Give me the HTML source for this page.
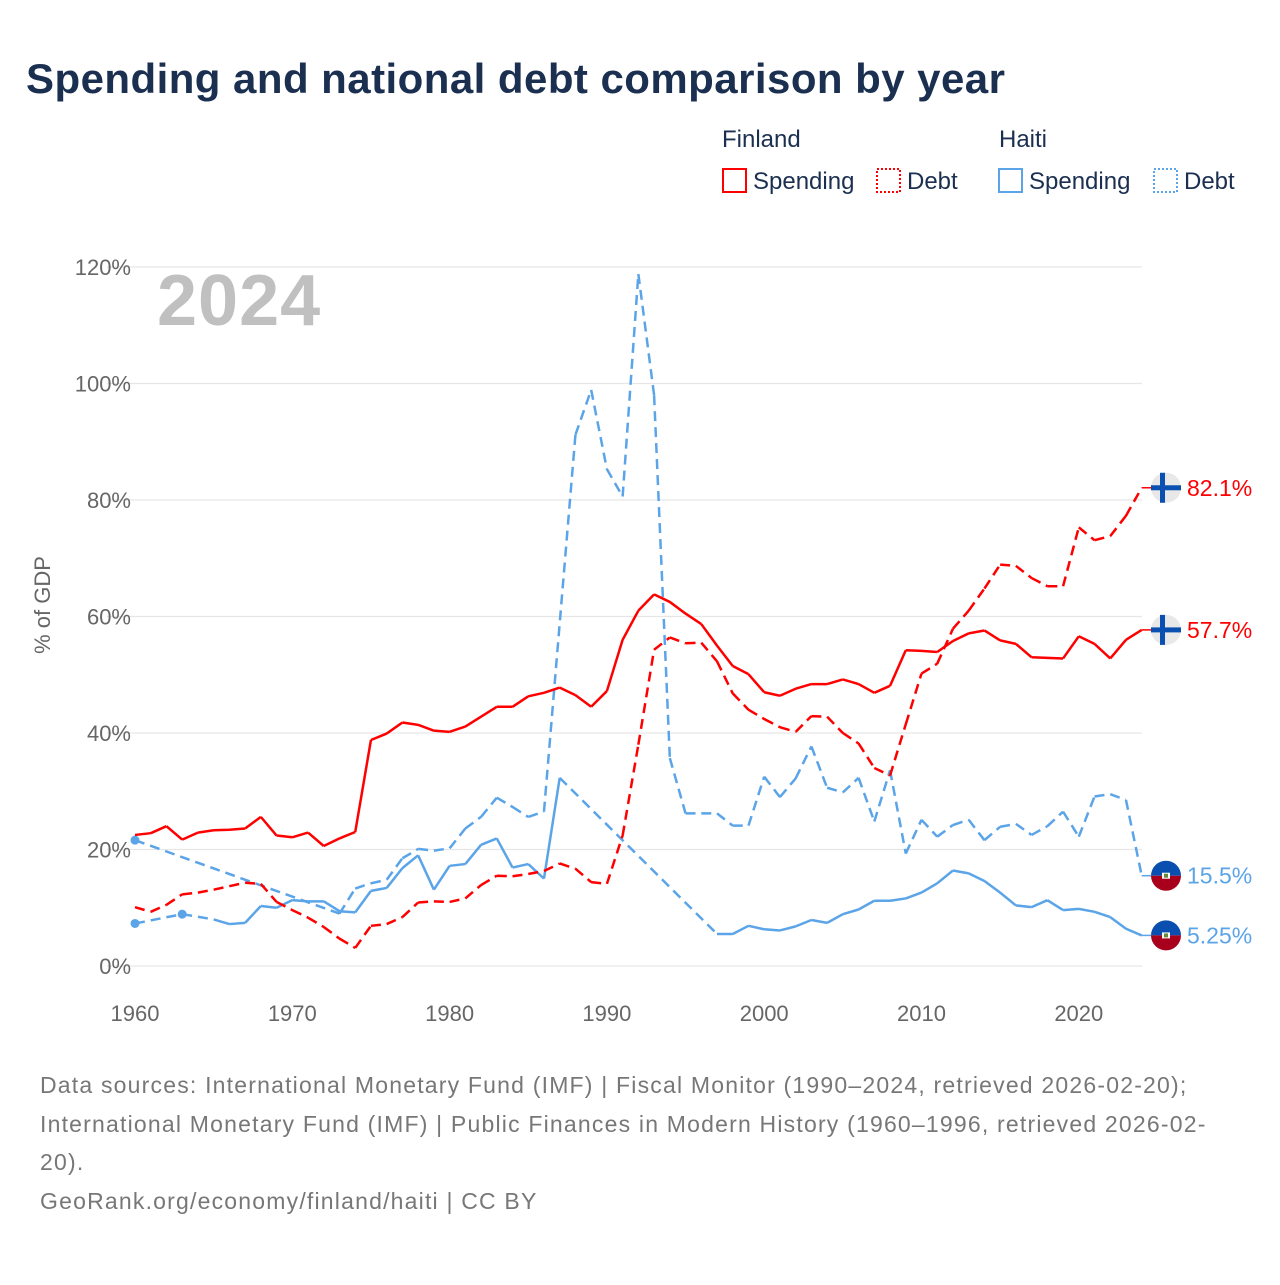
<!DOCTYPE html>
<html><head><meta charset="utf-8">
<style>
body{margin:0;background:#fff;width:1280px;height:1280px;overflow:hidden;font-family:"Liberation Sans",sans-serif}
svg text{font-family:"Liberation Sans",sans-serif}
</style></head>
<body>
<svg width="1280" height="1280" viewBox="0 0 1280 1280" id="chart">
<text x="26" y="93" font-size="42" font-weight="bold" fill="#1b2f50" letter-spacing="0.45">Spending and national debt comparison by year</text>
<g>
<text x="722" y="147" font-size="24" fill="#1b2f50">Finland</text>
<text x="999" y="147" font-size="24" fill="#1b2f50">Haiti</text>
<g><rect x="723" y="169" width="23" height="23" fill="none" stroke="#f00" stroke-width="2"/><text x="753" y="189" font-size="24" fill="#1b2f50">Spending</text></g>
<g><rect x="877" y="169" width="23" height="23" fill="none" stroke="#f00" stroke-width="2" stroke-dasharray="2,2"/><text x="907" y="189" font-size="24" fill="#1b2f50">Debt</text></g>
<g><rect x="999" y="169" width="23" height="23" fill="none" stroke="#5ba4e8" stroke-width="2"/><text x="1029" y="189" font-size="24" fill="#1b2f50">Spending</text></g>
<g><rect x="1154" y="169" width="23" height="23" fill="none" stroke="#5ba4e8" stroke-width="2" stroke-dasharray="2,2"/><text x="1184" y="189" font-size="24" fill="#1b2f50">Debt</text></g>
</g>
<text x="157" y="325" font-size="72" font-weight="bold" fill="#c0c0c0" letter-spacing="1">2024</text>
<text transform="translate(50,605) rotate(-90)" text-anchor="middle" font-size="22" fill="#666">% of GDP</text>
<g id="grid"></g><g id="series"></g><g id="ends"></g>
<g font-size="23" fill="#777" letter-spacing="1.2">
<text x="40" y="1093">Data sources: International Monetary Fund (IMF) | Fiscal Monitor (1990–2024, retrieved 2026-02-20);</text>
<text x="40" y="1132">International Monetary Fund (IMF) | Public Finances in Modern History (1960–1996, retrieved 2026-02-</text>
<text x="40" y="1170">20).</text>
<text x="40" y="1209">GeoRank.org/economy/finland/haiti | CC BY</text>
</g>
</svg>
<script>
const years=[];for(let y=1960;y<=2024;y++)years.push(y);
const yTicks=[0,20,40,60,80,100,120];
const xTicks=[1960,1970,1980,1990,2000,2010,2020];
const finSpending=[22.5,22.8,24,21.7,22.9,23.3,23.4,23.6,25.6,22.4,22.1,22.9,20.6,21.9,23,38.8,39.9,41.8,41.4,40.4,40.2,41.1,42.8,44.5,44.5,46.3,46.9,47.8,46.5,44.5,47.2,56,61,63.8,62.5,60.5,58.7,55,51.5,50.1,47,46.4,47.6,48.4,48.4,49.2,48.4,46.9,48.1,54.2,54.1,53.9,55.8,57.1,57.6,55.9,55.3,53,52.9,52.8,56.6,55.3,52.8,56,57.7];
const finDebt=[10.1,9.3,10.5,12.3,12.6,13.1,13.7,14.3,14.1,11,9.6,8.3,6.7,4.7,3.1,6.9,7.2,8.4,10.9,11.1,11,11.6,13.9,15.5,15.4,15.8,16.3,17.6,16.7,14.4,14.1,22.4,38,54.3,56.4,55.4,55.5,52.3,46.8,44,42.4,41,40.2,42.9,42.8,40,38.2,34,32.7,41.5,50.2,51.9,57.9,61,64.8,68.9,68.7,66.6,65.2,65.2,75.3,73.1,73.8,77.3,82.1];
const haiSpending=[7.3,null,null,8.9,null,8.0,7.2,7.4,10.3,10.0,11.3,11.1,11.1,9.4,9.2,12.9,13.4,16.8,19.0,13.1,17.2,17.5,20.8,21.9,16.9,17.5,15.0,32.3,null,null,null,null,null,null,null,null,null,5.5,5.5,6.9,6.3,6.1,6.8,7.9,7.4,8.9,9.7,11.2,11.2,11.6,12.6,14.2,16.4,15.9,14.6,12.6,10.4,10.1,11.3,9.6,9.8,9.3,8.4,6.4,5.25];
const haiDebt=[21.6,null,null,null,null,null,null,null,null,null,null,null,null,9.0,13.3,14.2,14.8,18.5,20.1,19.8,20.2,23.6,25.6,28.9,27.3,25.6,26.5,null,91.2,98.9,85.3,80.6,118.8,98,35.7,26.2,26.2,26.2,24.1,24.1,32.5,29,32.2,37.7,30.6,29.8,32.3,24.8,33.6,19.3,25.1,22.2,24.2,25.1,21.6,23.9,24.4,22.5,24.0,26.5,22.2,29.1,29.5,28.5,15.5];
const NS="http://www.w3.org/2000/svg";
const X=y=>135+(y-1960)*15.73;
const Y=v=>966-v*5.825;
function el(t,a,p){const e=document.createElementNS(NS,t);for(const k in a)e.setAttribute(k,a[k]);p.appendChild(e);return e;}
const grid=document.getElementById('grid');
yTicks.forEach(t=>{
 const l=el('line',{x1:107,x2:1142,y1:Y(t),y2:Y(t),stroke:'#e6e6e6','stroke-width':1.2},grid);
 
 
 const tx=el('text',{x:131,y:Y(t)+8,'text-anchor':'end','font-size':22,fill:'#666'},grid);tx.textContent=t+'%';
 
 
});
xTicks.forEach(t=>{
 const tx=el('text',{x:X(t),y:1021,'text-anchor':'middle','font-size':22,fill:'#666'},grid);tx.textContent=t;
 
 
});
const sg=document.getElementById('series');
function draw(vals,color,dashedAll,name){
 const g=el('g',{},sg);
 
 
 const pts=[];vals.forEach((v,i)=>{if(v!=null)pts.push([years[i],v,i]);});
 let solid='',dash='';
 for(let k=1;k<pts.length;k++){
  const a=pts[k-1],b=pts[k];
  const seg=`M${X(a[0])},${Y(a[1])}L${X(b[0])},${Y(b[1])}`;
  if(dashedAll||b[2]-a[2]>1)dash+=seg;else solid+=seg;
 }
 if(solid)el('path',{d:solid,fill:'none',stroke:color,'stroke-width':2.5,'stroke-linejoin':'round'},g);
 if(dash)el('path',{d:dash,fill:'none',stroke:color,'stroke-width':2.5,'stroke-dasharray':'10,6'},g);
 vals.forEach((v,i)=>{
  if(v!=null&&(i===0||vals[i-1]==null)&&(i===vals.length-1||vals[i+1]==null)){
   const c=el('circle',{cx:X(years[i]),cy:Y(v),r:4.5,fill:color},g);
   
   
  }
 });
}
draw(haiDebt,'#5ba4e8',true,'haiti-debt-line');
draw(haiSpending,'#5ba4e8',false,'haiti-spending-line');
draw(finDebt,'#ff0000',true,'finland-debt-line');
draw(finSpending,'#ff0000',false,'finland-spending-line');
const ends=document.getElementById('ends');
function endLabel(v,color,country,text,name){
 const g=el('g',{},ends);
 
 
 const y=Y(v),cx=1166;
 el('line',{x1:X(2024),x2:cx-15,y1:y,y2:y,stroke:color,'stroke-width':1.5},g);
 if(country==='fi'){
  el('circle',{cx:cx,cy:y,r:15,fill:'#e8e8e8'},g);
  el('rect',{x:cx-15,y:y-2.5,width:30,height:5,fill:'#0a50b0'},g);
  el('rect',{x:cx-6,y:y-15,width:5,height:30,fill:'#0a50b0'},g);
 }else{
  el('path',{d:`M${cx-15},${y}A15,15 0 0 1 ${cx+15},${y}Z`,fill:'#0a4fb0'},g);
  el('path',{d:`M${cx-15},${y}A15,15 0 0 0 ${cx+15},${y}Z`,fill:'#a8001c'},g);
  el('rect',{x:cx-4,y:y-3,width:8,height:6,fill:'#fff'},g);
  el('rect',{x:cx-2,y:y-2,width:4,height:4,fill:'#6a8a3a'},g);
 }
 const t=el('text',{x:1187,y:y+8,'font-size':23,fill:color},g);t.textContent=text;
}
endLabel(finDebt[64],'#ff0000','fi','82.1%','finland-debt-end-label');
endLabel(finSpending[64],'#ff0000','fi','57.7%','finland-spending-end-label');
endLabel(haiDebt[64],'#5ba4e8','ht','15.5%','haiti-debt-end-label');
endLabel(haiSpending[64],'#5ba4e8','ht','5.25%','haiti-spending-end-label');
</script>
</body></html>
